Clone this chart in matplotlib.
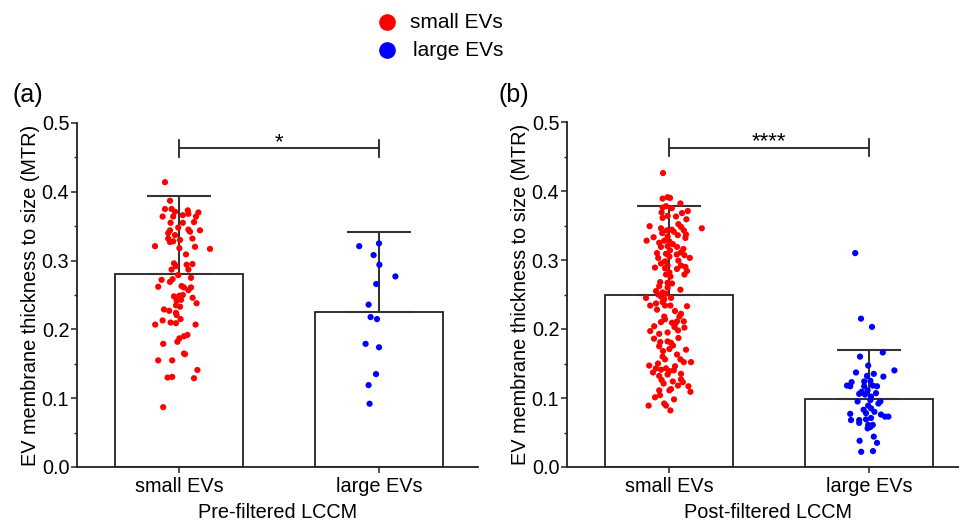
import matplotlib
matplotlib.use("Agg")
import matplotlib.pyplot as plt
from matplotlib.lines import Line2D
from matplotlib.ticker import MultipleLocator

plt.rcParams['font.family'] = ['Liberation Sans', 'DejaVu Sans']

# ---------------- data ----------------
categories = ["small EVs", "large EVs"]
panel_titles = ["Pre-filtered LCCM", "Post-filtered LCCM"]
panel_tags = ["(a)", "(b)"]
significance = ["*", "****"]

pre_means = [0.281, 0.226]
pre_sd = [0.113, 0.115]
post_means = [0.250, 0.099]
post_sd = [0.128, 0.070]

# Panel (a), small EVs: jitter offsets and values
pre_small_dx = [-0.070, -0.045, -0.070, -0.037, -0.020, 0.044, 0.097, -0.082, -0.029, 0.019,
                0.047, 0.085, -0.042, 0.019, 0.075, -0.004, -0.045, 0.047, 0.105, -0.054,
                -0.020, 0.055, -0.054, -0.029, 0.005, 0.067, -0.045, -0.120, 0.002, 0.080,
                0.155, 0.035, -0.025, -0.015, 0.038, 0.067, -0.037, 0.047, -0.004, 0.060,
                -0.087, -0.045, -0.032, -0.104, 0.013, 0.025, 0.047, 0.060, -0.025, 0.002,
                0.019, 0.068, -0.012, 0.010, -0.015, 0.005, 0.088, -0.075, -0.049, -0.015,
                -0.012, -0.082, -0.042, -0.015, 0.008, -0.119, 0.083, -0.008, 0.002, 0.025,
                0.042, -0.079, 0.025, 0.030, -0.104, -0.034, 0.092, -0.057, -0.034, 0.075,
                -0.079]
pre_small_val = [0.414, 0.387, 0.375, 0.375, 0.371, 0.373, 0.370, 0.364, 0.364, 0.366,
                 0.368, 0.364, 0.355, 0.355, 0.356, 0.348, 0.344, 0.345, 0.344, 0.340,
                 0.337, 0.342, 0.332, 0.328, 0.330, 0.332, 0.327, 0.321, 0.318, 0.320,
                 0.317, 0.309, 0.296, 0.292, 0.294, 0.295, 0.287, 0.287, 0.279, 0.275,
                 0.272, 0.269, 0.273, 0.262, 0.263, 0.261, 0.257, 0.261, 0.248, 0.249,
                 0.250, 0.246, 0.242, 0.243, 0.235, 0.233, 0.238, 0.229, 0.227, 0.224,
                 0.221, 0.213, 0.210, 0.209, 0.215, 0.207, 0.207, 0.182, 0.187, 0.190,
                 0.192, 0.179, 0.165, 0.164, 0.155, 0.155, 0.141, 0.130, 0.131, 0.129,
                 0.087]

# Panel (a), large EVs
pre_large_dx = [-0.099, 0.000, -0.027, 0.002, 0.082, -0.014, -0.052, -0.042, -0.010, -0.067,
                0.000, -0.015, -0.052, -0.047]
pre_large_val = [0.321, 0.325, 0.308, 0.294, 0.277, 0.266, 0.236, 0.218, 0.215, 0.179,
                 0.174, 0.135, 0.119, 0.092]

# Panel (b), small EVs
post_small_dx = [-0.030, -0.032, -0.007, 0.005, 0.057, -0.032, -0.015, 0.014, -0.037, 0.065,
                 0.094, -0.032, -0.007, 0.035, 0.087, 0.047, -0.097, 0.060, 0.164, -0.040,
                 -0.010, 0.014, 0.074, -0.034, 0.024, 0.044, 0.085, -0.077, -0.007, 0.082,
                 -0.112, -0.049, -0.024, 0.002, 0.019, -0.040, -0.007, 0.040, 0.072, 0.005,
                 0.060, -0.060, -0.015, 0.039, 0.077, -0.054, 0.002, 0.104, -0.020, 0.047,
                 -0.040, -0.007, 0.060, -0.070, -0.020, 0.040, 0.082, 0.090, 0.002, -0.015,
                 0.077, 0.007, -0.044, -0.007, 0.015, -0.049, -0.007, 0.057, -0.065, -0.032,
                 -0.054, -0.015, -0.115, -0.040, 0.010, -0.094, -0.065, -0.032, -0.020, 0.007,
                 0.090, -0.024, 0.060, 0.052, -0.024, 0.074, -0.040, 0.015, 0.030, 0.040,
                 -0.074, 0.077, 0.027, -0.094, -0.049, -0.007, 0.047, -0.044, -0.007, 0.010,
                 -0.049, 0.002, 0.085, -0.032, -0.020, 0.057, 0.110, 0.074, -0.099, -0.065,
                 -0.040, -0.015, 0.002, 0.024, -0.049, -0.007, -0.037, 0.019, 0.060, 0.069,
                 -0.027, 0.097, 0.010, 0.107, -0.049, 0.002, -0.070, -0.102, -0.024, -0.015,
                 0.007,
                 -0.060, 0.030, -0.020, 0.045, -0.075, 0.020, -0.030, 0.040, -0.055, 0.030,
                 -0.080, 0.045, -0.045, 0.025, 0.060]
post_small_val = [0.426, 0.389, 0.391, 0.390, 0.382, 0.376, 0.378, 0.375, 0.369, 0.368,
                  0.371, 0.361, 0.364, 0.363, 0.359, 0.352, 0.349, 0.348, 0.346, 0.346,
                  0.343, 0.344, 0.343, 0.339, 0.341, 0.336, 0.337, 0.333, 0.334, 0.332,
                  0.328, 0.325, 0.328, 0.327, 0.323, 0.319, 0.320, 0.319, 0.316, 0.314,
                  0.311, 0.310, 0.309, 0.308, 0.307, 0.303, 0.305, 0.303, 0.298, 0.299,
                  0.295, 0.292, 0.292, 0.289, 0.288, 0.287, 0.290, 0.284, 0.282, 0.279,
                  0.279, 0.276, 0.268, 0.267, 0.266, 0.262, 0.260, 0.257, 0.255, 0.253,
                  0.250, 0.251, 0.245, 0.247, 0.245, 0.234, 0.237, 0.239, 0.234, 0.234,
                  0.233, 0.243, 0.222, 0.218, 0.218, 0.211, 0.210, 0.209, 0.207, 0.211,
                  0.204, 0.202, 0.203, 0.197, 0.193, 0.195, 0.187, 0.181, 0.182, 0.180,
                  0.175, 0.171, 0.170, 0.160, 0.156, 0.156, 0.152, 0.152, 0.147, 0.143,
                  0.141, 0.143, 0.139, 0.140, 0.132, 0.134, 0.126, 0.124, 0.127, 0.123,
                  0.121, 0.117, 0.113, 0.109, 0.111, 0.111, 0.101, 0.089, 0.092, 0.089,
                  0.082,
                  0.228, 0.226, 0.214, 0.198, 0.186, 0.176, 0.168, 0.163, 0.150, 0.146,
                  0.137, 0.118, 0.104, 0.098, 0.135]

# Panel (b), large EVs
post_large_dx = [-0.069, -0.040, 0.015, -0.045, 0.069, -0.004, 0.127, -0.065, -0.010, 0.024,
                 0.072, -0.024, 0.007, -0.087, -0.110, -0.094, -0.024, 0.019, 0.040, -0.037,
                 -0.007, -0.049, -0.020, 0.035, 0.010, -0.057, 0.057, 0.007, -0.004, 0.047,
                 -0.027, 0.010, 0.027, -0.094, -0.015, 0.060, 0.080, 0.097, -0.090, -0.049,
                 -0.015, 0.010, -0.049, -0.004, 0.019, 0.007, -0.007, 0.024, -0.047, 0.040,
                 -0.039, 0.020]
post_large_val = [0.310, 0.215, 0.203, 0.160, 0.166, 0.147, 0.140, 0.137, 0.132, 0.135,
                  0.131, 0.124, 0.125, 0.123, 0.118, 0.117, 0.117, 0.118, 0.117, 0.109,
                  0.111, 0.106, 0.105, 0.107, 0.102, 0.095, 0.095, 0.097, 0.089, 0.092,
                  0.083, 0.085, 0.080, 0.077, 0.078, 0.076, 0.073, 0.073, 0.068, 0.068,
                  0.069, 0.071, 0.064, 0.061, 0.061, 0.058, 0.056, 0.044, 0.038, 0.035,
                  0.022, 0.023]

# ---------------- figure ----------------
W, H = 959, 521
fig = plt.figure(figsize=(W / 100, H / 100), dpi=100)

FS = 14.3
AX_COL = '#222222'
RED = '#ff0000'
BLUE = '#0000ff'

panels = [
    dict(left=77, top=123, means=pre_means, sd=pre_sd,
         pts=[(pre_small_dx, pre_small_val, RED), (pre_large_dx, pre_large_val, BLUE)]),
    dict(left=567, top=122, means=post_means, sd=post_sd,
         pts=[(post_small_dx, post_small_val, RED), (post_large_dx, post_large_val, BLUE)]),
]

for i, p in enumerate(panels):
    bottom = 467
    ax = fig.add_axes([p['left'] / W, 1 - bottom / H, 401 / W, (bottom - p['top']) / H])
    xs = list(range(len(categories)))
    ax.bar(xs, p['means'], width=0.64, facecolor='white', edgecolor=AX_COL,
           linewidth=1.3, zorder=1)
    for x, m, s in zip(xs, p['means'], p['sd']):
        ax.errorbar([x], [m], yerr=[[0], [s]], fmt='none', ecolor='#333333',
                    elinewidth=1.5, capsize=23, capthick=1.5, zorder=2)
    for x, (dx, vals, col) in zip(xs, p['pts']):
        ax.scatter([x + d for d in dx], vals, s=20, color=col, edgecolors='none', zorder=3)

    # significance bracket
    ax.plot([0, 1], [0.463, 0.463], color=AX_COL, lw=1.3, zorder=2, clip_on=False)
    for bx in (0, 1):
        ax.plot([bx, bx], [0.451, 0.475], color=AX_COL, lw=1.3, zorder=2, clip_on=False)
    ax.text(0.5, 0.4715, significance[i], ha='center', va='center', fontsize=16)

    ax.set_xlim(-0.51, 1.495)
    ax.set_ylim(0, 0.5)
    ax.set_xticks(xs)
    ax.set_xticklabels(categories, fontsize=FS)
    ax.yaxis.set_major_locator(MultipleLocator(0.1))
    ax.yaxis.set_minor_locator(MultipleLocator(0.05))
    ax.set_yticklabels([f"{v:.1f}" for v in ax.get_yticks()], fontsize=FS)
    ax.tick_params(axis='y', which='major', length=4, width=1.1, color=AX_COL, pad=1.5)
    ax.tick_params(axis='y', which='minor', length=2.5, width=1.0, color=AX_COL)
    ax.tick_params(axis='x', which='major', length=4, width=1.1, color=AX_COL, pad=3)
    for sp in ['top', 'right']:
        ax.spines[sp].set_visible(False)
    for sp in ['left', 'bottom']:
        ax.spines[sp].set_color(AX_COL)
        ax.spines[sp].set_linewidth(1.3)
    ax.set_ylabel("EV membrane thickness to size (MTR)", fontsize=FS)
    ax.yaxis.set_label_coords(-0.092, 0.5)
    ax.set_xlabel(panel_titles[i], fontsize=FS)
    ax.xaxis.set_label_coords(0.5, -0.105)

# panel tags
fig.text(12 / W, 1 - 95 / H, panel_tags[0], fontsize=18, va='center', ha='left')
fig.text(498 / W, 1 - 95 / H, panel_tags[1], fontsize=18, va='center', ha='left')

# legend (manual)
for yy, lab, col, tx in [(22, "small EVs", RED, 410), (50, "large EVs", BLUE, 413)]:
    fig.add_artist(Line2D([387 / W], [1 - yy / H], marker='o', ls='', color=col,
                          markersize=11, transform=fig.transFigure))
    fig.text(tx / W, 1 - yy / H, lab, fontsize=15, va='center', ha='left')

fig.savefig("out.png", dpi=100)
